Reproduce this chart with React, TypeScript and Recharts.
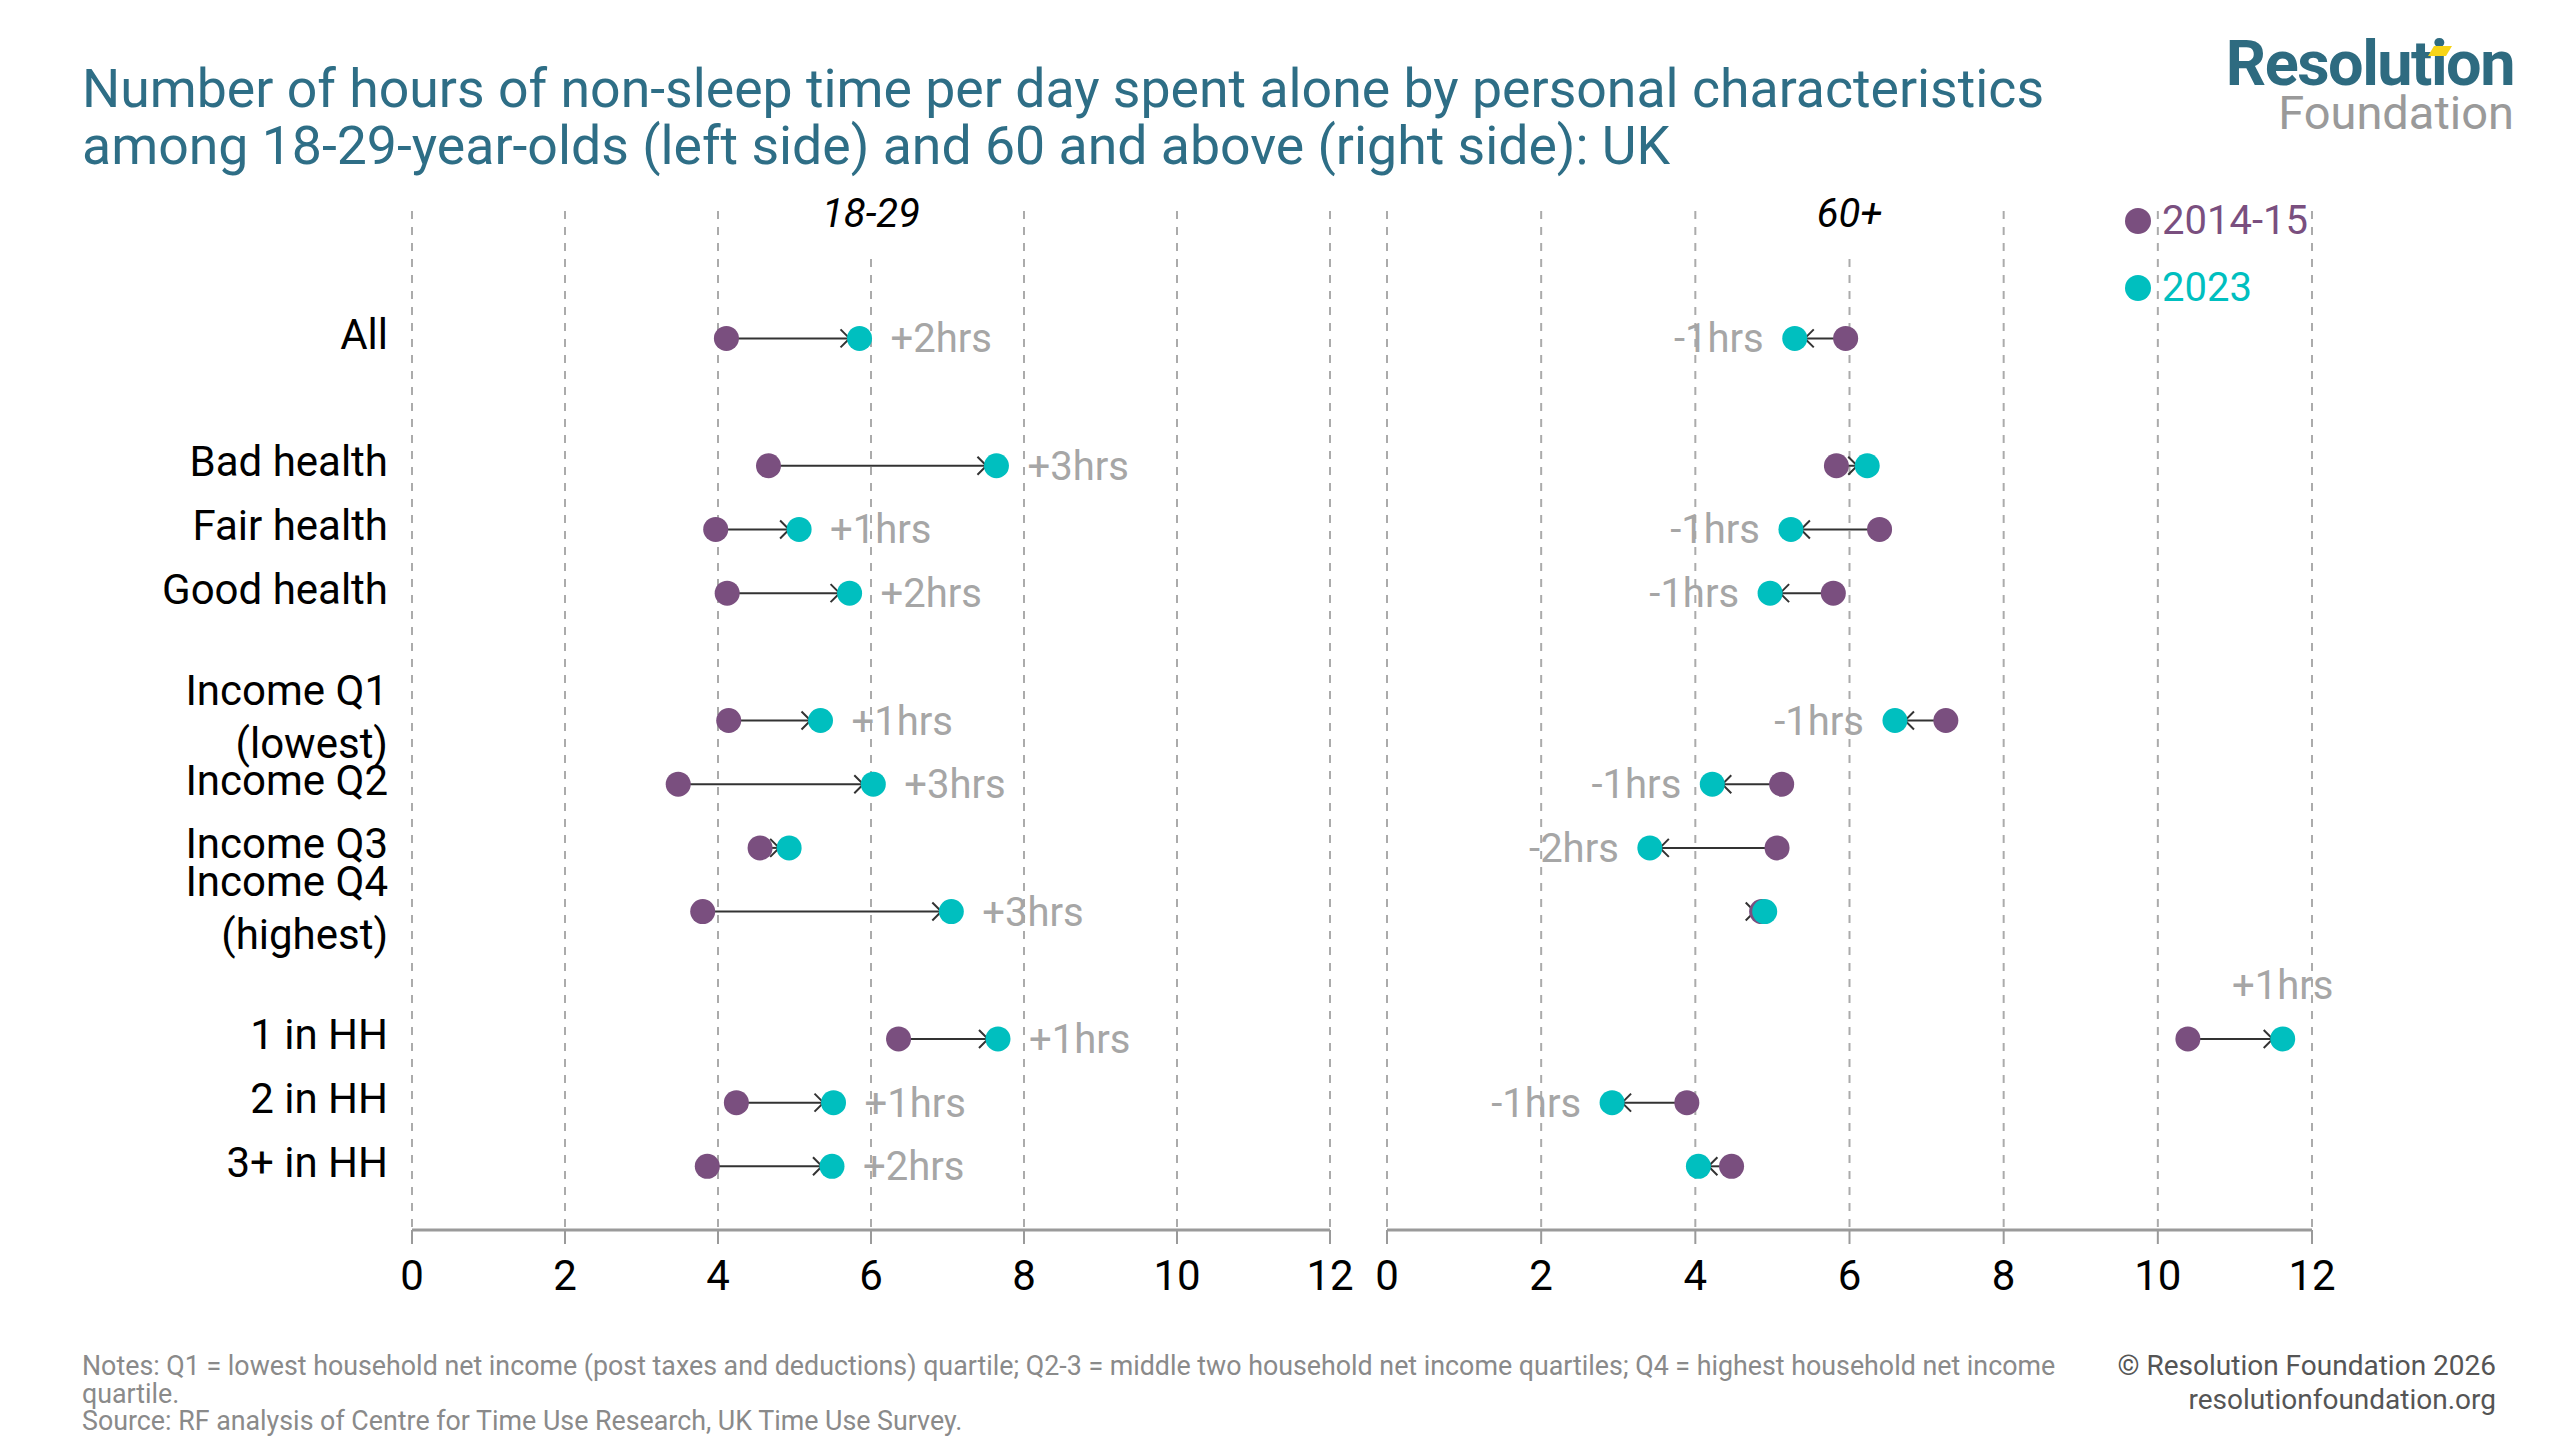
import React from 'react';
import {
  ScatterChart,
  Scatter,
  XAxis,
  YAxis,
  CartesianGrid,
  ReferenceLine,
  ReferenceDot,
  Legend,
} from 'recharts';

const FONT = 'Roboto, "Noto Sans", sans-serif';
const PURPLE = '#7a4f7f';
const TEAL = '#00bfbf';
const GREY_LABEL = '#a6a6a6';

// categories, top to bottom; group index adds one blank row between groups
const categories = [
  'All',
  'Bad health',
  'Fair health',
  'Good health',
  'Income Q1 (lowest)',
  'Income Q2',
  'Income Q3',
  'Income Q4 (highest)',
  '1 in HH',
  '2 in HH',
  '3+ in HH',
];
const groups = [0, 1, 1, 1, 2, 2, 2, 2, 3, 3, 3];

// 18-29
const young2014 = [4.11, 4.66, 3.97, 4.12, 4.14, 3.48, 4.55, 3.8, 6.36, 4.24, 3.86];
const young2023 = [5.85, 7.64, 5.06, 5.72, 5.34, 6.03, 4.93, 7.05, 7.66, 5.51, 5.49];
const youngChange = ['+2hrs', '+3hrs', '+1hrs', '+2hrs', '+1hrs', '+3hrs', '', '+3hrs', '+1hrs', '+1hrs', '+2hrs'];

// 60+
const old2014 = [5.95, 5.83, 6.39, 5.79, 7.25, 5.12, 5.06, 4.86, 10.39, 3.89, 4.47];
const old2023 = [5.29, 6.23, 5.24, 4.97, 6.59, 4.22, 3.41, 4.9, 11.62, 2.92, 4.04];
const oldChange = ['-1hrs', '', '-1hrs', '-1hrs', '-1hrs', '-1hrs', '-2hrs', '', '+1hrs', '-1hrs', ''];

const seriesNames = ['2014-15', '2023'];
const xTicks = [0, 2, 4, 6, 8, 10, 12];

const slots = categories.map((_, i) => i + groups[i]);

function CategoryTick(props: any) {
  const { x, y, payload } = props;
  const i = slots.indexOf(payload.value);
  if (i < 0) return null;
  const m = categories[i].match(/^(.*) (\(.*\))$/);
  const lines = m ? [m[1], m[2]] : [categories[i]];
  return (
    <text x={x} y={y} textAnchor="end" fill="#000" fontSize={42} fontFamily={FONT}>
      {lines.map((l, k) => (
        <tspan key={k} x={x} y={y + (k - (lines.length - 1) / 2) * 53} dy="0.25em">
          {l}
        </tspan>
      ))}
    </text>
  );
}

function BeforeDot(props: any) {
  return <circle cx={props.cx} cy={props.cy} r={12.5} fill={PURPLE} />;
}

function AfterDot(props: any) {
  const { cx, cy, payload } = props;
  const dir = payload.x >= payload.from ? 1 : -1;
  let label = null;
  if (payload.change) {
    // no room on the right edge -> put the label on top
    if (dir > 0 && payload.x > 10.5) {
      label = (
        <text x={cx} y={cy - 54} dy="0.35em" textAnchor="middle" fill={GREY_LABEL} fontSize={40} fontFamily={FONT}>
          {payload.change}
        </text>
      );
    } else {
      label = (
        <text
          x={cx + dir * 31}
          y={cy}
          dy="0.35em"
          textAnchor={dir > 0 ? 'start' : 'end'}
          fill={GREY_LABEL}
          fontSize={40}
          fontFamily={FONT}
        >
          {payload.change}
        </text>
      );
    }
  }
  return (
    <g>
      <circle cx={cx} cy={cy} r={12.5} fill={TEAL} />
      {label}
    </g>
  );
}

function Connector(props: any) {
  const { x1, y1, x2, y2 } = props;
  if (x1 == null || x2 == null) return null;
  const dir = x2 >= x1 ? 1 : -1;
  const tipX = x2 - dir * 10;
  return (
    <g>
      <line x1={x1} y1={y1} x2={tipX} y2={y2} stroke="#333" strokeWidth={2} />
      <polyline
        points={`${tipX - dir * 9},${y2 - 9} ${tipX},${y2} ${tipX - dir * 9},${y2 + 9}`}
        fill="none"
        stroke="#333"
        strokeWidth={2}
      />
    </g>
  );
}

function panelTitle(text: string) {
  return (props: any) => {
    const { viewBox } = props;
    const cx = viewBox.x + viewBox.width / 2;
    const cy = viewBox.y + viewBox.height / 2;
    return (
      <g>
        <rect x={cx - 50} y={cy - 22} width={100} height={66} fill="#fff" />
        <text x={cx} y={cy + 2} dy="0.35em" textAnchor="middle" fontStyle="italic" fontSize={40} fill="#000" fontFamily={FONT}>
          {text}
        </text>
      </g>
    );
  };
}

function renderLegend() {
  const colors = [PURPLE, TEAL];
  return (
    <div style={{ fontFamily: FONT }}>
      {seriesNames.map((n, i) => (
        <div key={n} style={{ display: 'flex', alignItems: 'center', height: 67 }}>
          <span
            style={{
              display: 'inline-block',
              width: 26,
              height: 26,
              borderRadius: 13,
              background: colors[i],
              marginRight: 11,
            }}
          />
          <span style={{ color: colors[i], fontSize: 40 }}>{n}</span>
        </div>
      ))}
    </div>
  );
}

interface PanelProps {
  title: string;
  before: number[];
  after: number[];
  change: string[];
  left: number;
  width: number;
  marginLeft: number;
  marginRight: number;
  showCategories: boolean;
  showLegend: boolean;
}

function Panel({ title, before, after, change, left, width, marginLeft, marginRight, showCategories, showLegend }: PanelProps) {
  const fromData = categories.map((c, i) => ({ x: before[i], y: slots[i], name: c }));
  const toData = categories.map((c, i) => ({ x: after[i], y: slots[i], name: c, from: before[i], change: change[i] }));

  return (
    <div style={{ position: 'absolute', left, top: 0 }}>
      <ScatterChart width={width} height={1440} margin={{ top: 211, right: marginRight, bottom: 130, left: marginLeft }}>
        <CartesianGrid horizontal={false} stroke="#ababab" strokeWidth={2} strokeDasharray="8 8" />
        <XAxis
          type="number"
          dataKey="x"
          domain={[0, 12]}
          ticks={xTicks}
          interval={0}
          height={80}
          axisLine={{ stroke: '#9a9a9a', strokeWidth: 3 }}
          tickLine={{ stroke: '#9a9a9a', strokeWidth: 2 }}
          tickSize={14}
          tickMargin={16}
          tick={{ fill: '#000', fontSize: 42, fontFamily: FONT }}
        />
        <YAxis
          type="number"
          dataKey="y"
          domain={[-2, 14]}
          reversed
          ticks={slots}
          interval={0}
          hide={!showCategories}
          width={412}
          axisLine={false}
          tickLine={false}
          tickSize={0}
          tickMargin={24}
          tick={(p: any) => <CategoryTick {...p} />}
        />
        {categories.map((c, i) => (
          <ReferenceLine
            key={c}
            segment={[
              { x: before[i], y: slots[i] },
              { x: after[i], y: slots[i] },
            ]}
            ifOverflow="visible"
            shape={(p: any) => <Connector {...p} />}
          />
        ))}
        <Scatter name={seriesNames[0]} data={fromData} fill={PURPLE} shape={BeforeDot} isAnimationActive={false} />
        <Scatter name={seriesNames[1]} data={toData} fill={TEAL} shape={AfterDot} isAnimationActive={false} />
        <ReferenceDot x={6} y={-2} r={0} ifOverflow="visible" label={{ content: panelTitle(title) }} />
        {showLegend && (
          <Legend
            layout="vertical"
            verticalAlign="middle"
            align="center"
            content={renderLegend}
            wrapperStyle={{ left: 765, top: 187, width: 320, height: 134 }}
          />
        )}
      </ScatterChart>
    </div>
  );
}

export default function App() {
  return (
    <div style={{ position: 'relative', width: 2560, height: 1440, background: '#fff', fontFamily: FONT, overflow: 'hidden' }}>
      <style>{'body{margin:0}'}</style>

      <div
        style={{
          position: 'absolute',
          left: 82,
          top: 60,
          color: '#2e6e86',
          fontSize: 53.6,
          lineHeight: '57px',
          whiteSpace: 'nowrap',
        }}
      >
        Number of hours of non-sleep time per day spent alone by personal characteristics
        <br />
        among 18-29-year-olds (left side) and 60 and above (right side): UK
      </div>

      {/* logo */}
      <div style={{ position: 'absolute', right: 46, top: 32, textAlign: 'right', lineHeight: 1 }}>
        <div style={{ color: '#2e6b80', fontSize: 63, fontWeight: 700, letterSpacing: -1.5 }}>Resolution</div>
        <div style={{ color: '#9a9a9a', fontSize: 47, marginTop: -6 }}>Foundation</div>
      </div>
      <svg style={{ position: 'absolute', left: 2428, top: 46 }} width={26} height={12}>
        <polygon points="6,0 24,0 18,10 0,10" fill="#f7d417" />
      </svg>

      <Panel
        title="18-29"
        before={young2014}
        after={young2023}
        change={youngChange}
        left={0}
        width={1360}
        marginLeft={0}
        marginRight={30}
        showCategories
        showLegend={false}
      />
      <Panel
        title="60+"
        before={old2014}
        after={old2023}
        change={oldChange}
        left={1360}
        width={1200}
        marginLeft={27}
        marginRight={248}
        showCategories={false}
        showLegend
      />

      <div
        style={{
          position: 'absolute',
          left: 82,
          top: 1353,
          color: '#8a8a8a',
          fontSize: 26.8,
          lineHeight: '27.5px',
          whiteSpace: 'nowrap',
        }}
      >
        Notes: Q1 = lowest household net income (post taxes and deductions) quartile; Q2-3 = middle two household net income
        quartiles; Q4 = highest household net income
        <br />
        quartile.
        <br />
        Source: RF analysis of Centre for Time Use Research, UK Time Use Survey.
      </div>
      <div
        style={{
          position: 'absolute',
          right: 64,
          top: 1349,
          textAlign: 'right',
          color: '#555',
          fontSize: 28,
          lineHeight: '34px',
        }}
      >
        © Resolution Foundation 2026
        <br />
        resolutionfoundation.org
      </div>
    </div>
  );
}
